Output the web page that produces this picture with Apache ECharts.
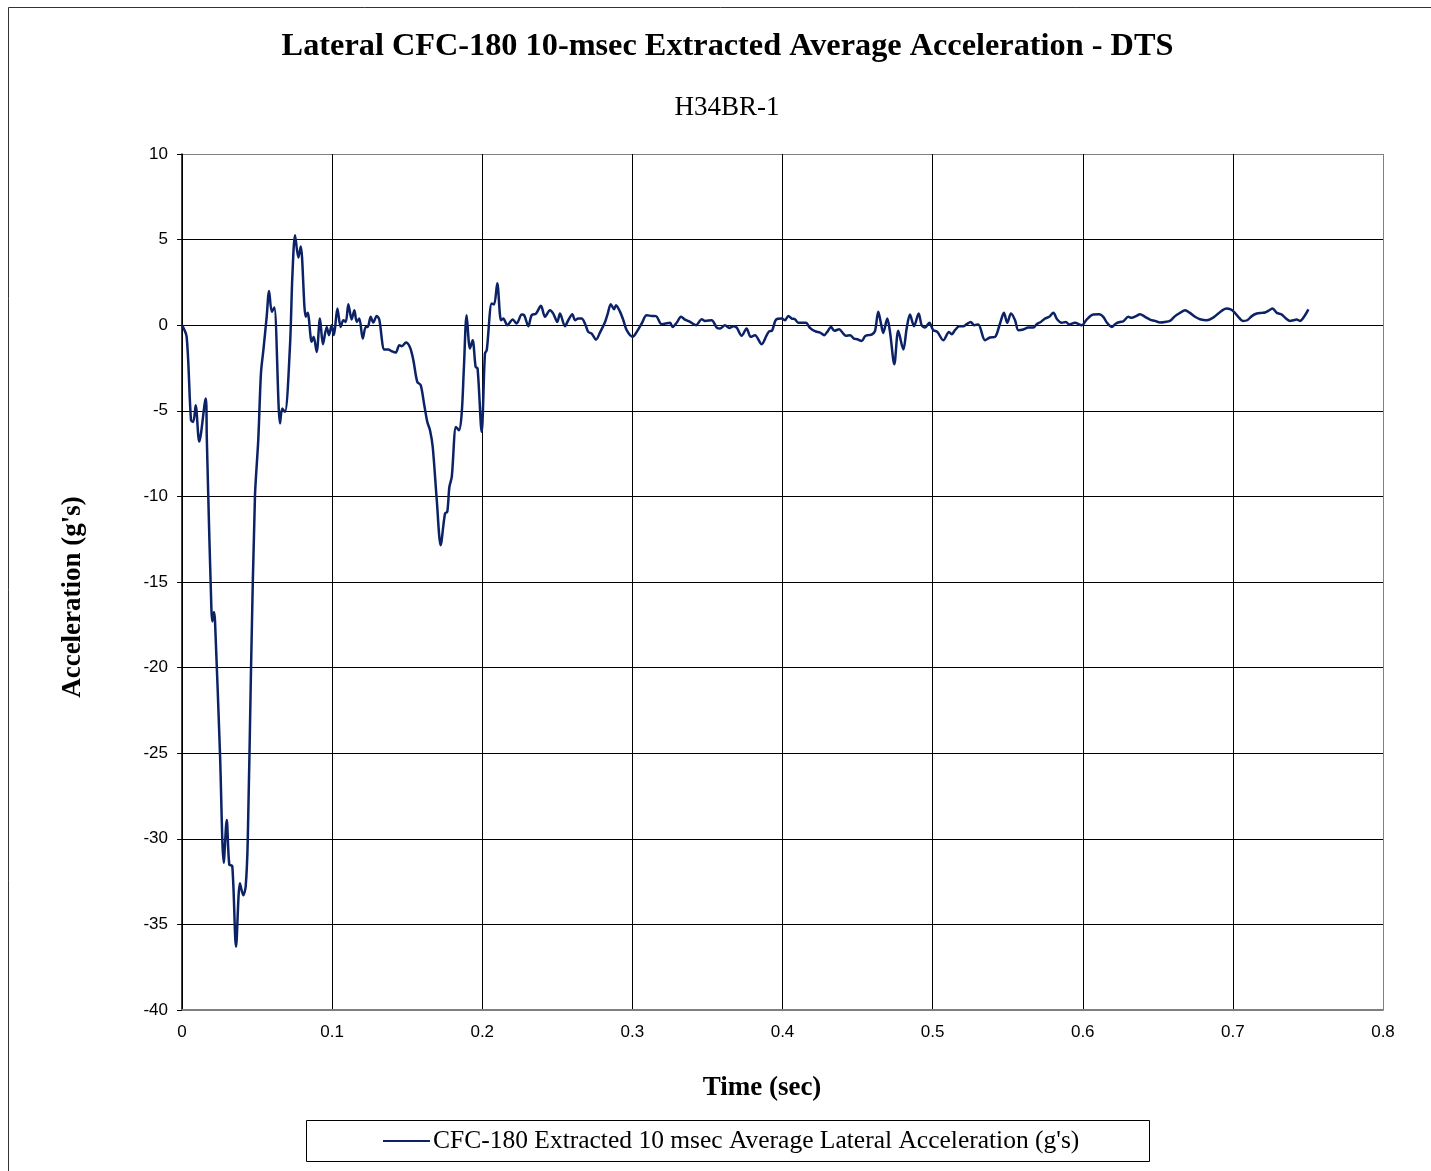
<!DOCTYPE html>
<html>
<head>
<meta charset="utf-8">
<script src="https://cdn.jsdelivr.net/npm/echarts@6/dist/echarts.min.js"></script>
<style>
html,body{margin:0;padding:0;background:#fff;}
#chart{width:1431px;height:1171px;}
</style>
</head>
<body>
<div id="chart"></div>
<script>
const titleText = "Lateral CFC-180 10-msec Extracted Average Acceleration - DTS";
const subtitleText = "H34BR-1";
const xAxisName = "Time (sec)";
const yAxisName = "Acceleration (g's)";
const seriesName = "CFC-180 Extracted 10 msec Average Lateral Acceleration (g's)";

const xTicks = [0, 0.1, 0.2, 0.3, 0.4, 0.5, 0.6, 0.7, 0.8];
const yTicks = [-40, -35, -30, -25, -20, -15, -10, -5, 0, 5, 10];

const time = [
0, 0.0031, 0.0060, 0.0075, 0.0091, 0.0115, 0.0158, 0.0165, 0.0175, 0.0191,
0.0202, 0.0213, 0.0220, 0.0253, 0.0278, 0.0298, 0.0315, 0.0335, 0.0360, 0.0386,
0.0408, 0.0424, 0.0438, 0.0460, 0.0486, 0.0508, 0.0526, 0.0542, 0.0564, 0.0580,
0.0598, 0.0615, 0.0653, 0.0668, 0.0686, 0.0719, 0.0735, 0.0753, 0.0775, 0.0791,
0.0824, 0.0837, 0.0864, 0.0877, 0.0897, 0.0919, 0.0939, 0.0964, 0.0979, 0.0997,
0.1012, 0.1035, 0.1057, 0.1075, 0.1091, 0.1108, 0.1130, 0.1148, 0.1164, 0.1181,
0.1204, 0.1224, 0.1237, 0.1257, 0.1274, 0.1297, 0.1314, 0.1348, 0.1374, 0.1397,
0.1423, 0.1448, 0.1464, 0.1492, 0.1519, 0.1541, 0.1567, 0.1590, 0.1612, 0.1634,
0.1652, 0.1670, 0.1697, 0.1723, 0.1752, 0.1767, 0.1781, 0.1797, 0.1825, 0.1845,
0.1863, 0.1878, 0.1896, 0.1918, 0.1936, 0.1956, 0.1969, 0.1996, 0.2018, 0.2030,
0.2063, 0.2079, 0.2100, 0.2125, 0.2140, 0.2167, 0.2203, 0.2229, 0.2263, 0.2280,
0.2307, 0.2329, 0.2358, 0.2391, 0.2418, 0.2451, 0.2473, 0.2500, 0.2518, 0.2551,
0.2573, 0.2600, 0.2618, 0.2640, 0.2662, 0.2684, 0.2706, 0.2729, 0.2758, 0.2784,
0.2818, 0.2836, 0.2856, 0.2878, 0.2891, 0.2918, 0.2940, 0.2962, 0.3002, 0.3029,
0.3062, 0.3095, 0.3129, 0.3157, 0.3195, 0.3251, 0.3268, 0.3295, 0.3324, 0.3350,
0.3384, 0.3424, 0.3462, 0.3484, 0.3528, 0.3562, 0.3584, 0.3617, 0.3646, 0.3672,
0.3695, 0.3728, 0.3761, 0.3788, 0.3817, 0.3861, 0.3895, 0.3912, 0.3929, 0.3957,
0.3995, 0.4017, 0.4039, 0.4061, 0.4083, 0.4105, 0.4156, 0.4183, 0.4216, 0.4250,
0.4278, 0.4298, 0.4323, 0.4345, 0.4378, 0.4401, 0.4423, 0.4450, 0.4476, 0.4498,
0.4528, 0.4550, 0.4572, 0.4594, 0.4616, 0.4638, 0.4656, 0.4671, 0.4698, 0.4716,
0.4745, 0.4771, 0.4805, 0.4827, 0.4849, 0.4876, 0.4907, 0.4927, 0.4949, 0.4978,
0.5004, 0.5031, 0.5071, 0.5109, 0.5127, 0.5149, 0.5178, 0.5204, 0.5227, 0.5254,
0.5276, 0.5304, 0.5349, 0.5382, 0.5416, 0.5449, 0.5475, 0.5497, 0.5522, 0.5549,
0.5571, 0.5604, 0.5637, 0.5671, 0.5693, 0.5720, 0.5749, 0.5777, 0.5804, 0.5830,
0.5860, 0.5888, 0.5910, 0.5948, 0.5993, 0.6026, 0.6070, 0.6110, 0.6137, 0.6160,
0.6193, 0.6221, 0.6248, 0.6270, 0.6303, 0.6326, 0.6355, 0.6381, 0.6415, 0.6448,
0.6481, 0.6515, 0.6548, 0.6581, 0.6615, 0.6648, 0.6681, 0.6714, 0.6748, 0.6781,
0.6826, 0.6866, 0.6903, 0.6932, 0.6958, 0.6985, 0.7007, 0.7036, 0.7066, 0.7096,
0.7126, 0.7159, 0.7193, 0.7214, 0.7236, 0.7264, 0.7293, 0.7326, 0.7354, 0.7381,
0.7403, 0.7425, 0.7447, 0.7474, 0.7503
];

const accel = [
0, -0.68, -5.55, -5.65, -4.67, -6.8, -4.28, -6.5, -10.0, -15.1,
-17.3, -16.75, -17.3, -25.0, -31.4, -28.9, -31.5, -31.6, -36.3, -32.6,
-33.3, -32.8, -30.1, -19.96, -10.0, -6.7, -2.8, -1.46, 0.49, 2.0,
0.78, 1.03, -5.74, -4.87, -5.06, -1.27, 2.82, 5.26, 3.95, 4.6,
0.49, 0.72, -0.97, -0.68, -1.56, 0.39, -1.11, -0.1, -0.58, 0.0,
-0.58, 0.97, -0.1, 0.29, 0.19, 1.23, 0.33, 0.88, 0.19, 0.39,
-0.78, -0.1, -0.1, 0.49, 0.16, 0.54, 0.33, -1.42, -1.42, -1.52,
-1.6, -1.17, -1.23, -1.01, -1.3, -2.04, -3.31, -3.5, -4.57, -5.65,
-6.13, -7.1, -10.2, -12.85, -11.0, -10.9, -9.45, -8.86, -5.94, -6.13,
-5.16, -2.43, 0.58, -1.36, -0.88, -2.43, -2.53, -6.23, -1.65, -1.46,
1.27, 1.21, 2.45, 0.29, 0.39, 0.0, 0.33, 0.1, 0.62, 0.58,
-0.06, 0.58, 0.68, 1.13, 0.49, 0.88, 0.68, 0.19, 0.68, -0.06,
0.29, 0.64, 0.29, 0.39, 0.39, 0.1, -0.39, -0.49, -0.84, -0.43,
0.19, 0.68, 1.23, 0.93, 1.17, 0.78, 0.29, -0.29, -0.68, -0.39,
0.1, 0.58, 0.54, 0.53, 0.06, 0.14, -0.1, 0.14, 0.49, 0.33,
0.19, 0.0, 0.35, 0.25, 0.29, -0.14, -0.19, 0.0, -0.16, -0.06,
-0.14, -0.62, -0.19, -0.68, -0.58, -1.11, -0.58, -0.35, -0.33, 0.33,
0.39, 0.29, 0.54, 0.39, 0.35, 0.14, 0.14, -0.16, -0.35, -0.43,
-0.58, -0.39, -0.1, -0.33, -0.23, -0.45, -0.62, -0.58, -0.78, -0.82,
-0.92, -0.64, -0.58, -0.55, -0.35, 0.78, 0.1, -0.45, 0.39, -0.39,
-2.28, -0.33, -1.42, -0.19, 0.62, -0.06, 0.68, 0.0, -0.14, 0.14,
-0.29, -0.39, -0.88, -0.39, -0.53, -0.29, -0.06, -0.06, 0.06, 0.19,
0.0, 0.04, -0.88, -0.72, -0.68, 0.1, 0.72, 0.14, 0.68, 0.29,
-0.29, -0.25, -0.14, -0.14, 0.06, 0.19, 0.39, 0.49, 0.72, 0.33,
0.14, 0.19, 0.04, 0.14, 0.0, 0.33, 0.62, 0.64, 0.49, 0.16,
-0.1, 0.1, 0.19, 0.23, 0.49, 0.43, 0.53, 0.64, 0.49, 0.33,
0.25, 0.16, 0.19, 0.25, 0.53, 0.72, 0.88, 0.72, 0.49, 0.35,
0.29, 0.43, 0.68, 0.88, 0.97, 0.92, 0.78, 0.49, 0.25, 0.29,
0.53, 0.68, 0.72, 0.74, 0.84, 0.97, 0.72, 0.62, 0.39, 0.25,
0.29, 0.33, 0.25, 0.49, 0.92
];

const seriesData = time.map((t, i) => [t, accel[i]]);

const chart = echarts.init(document.getElementById('chart'), null, {renderer: 'canvas'});

const ySplitColors = yTicks.map((v, i) => i === yTicks.length - 1 ? '#808080' : '#000000');
const xSplitColors = xTicks.map((v, i) => i === xTicks.length - 1 ? '#808080' : '#000000');

chart.setOption({
  backgroundColor: '#ffffff',
  animation: false,
  graphic: [
    {type: 'rect', z: -1, silent: true,
     shape: {x: 8.5, y: 7.5, width: 1440, height: 1180},
     style: {fill: 'none', stroke: '#333', lineWidth: 1}},
    {type: 'rect', silent: true,
     shape: {x: 306.5, y: 1120.5, width: 843, height: 41},
     style: {fill: 'none', stroke: '#000', lineWidth: 1}},
    {type: 'text', silent: true, x: 727.5, y: 47,
     style: {text: titleText, fontFamily: 'Liberation Serif', fontWeight: 'bold', fontSize: 32.3,
             fill: '#000', textAlign: 'center', textVerticalAlign: 'middle'}},
    {type: 'text', silent: true, x: 727, y: 108,
     style: {text: subtitleText, fontFamily: 'Liberation Serif', fontWeight: 'normal', fontSize: 27,
             fill: '#000', textAlign: 'center', textVerticalAlign: 'middle'}},
    {type: 'text', silent: true, x: 762, y: 1088,
     style: {text: xAxisName, fontFamily: 'Liberation Serif', fontWeight: 'bold', fontSize: 27,
             fill: '#000', textAlign: 'center', textVerticalAlign: 'middle'}},
    {type: 'text', silent: true, x: 73, y: 597, rotation: Math.PI / 2,
     style: {text: yAxisName, fontFamily: 'Liberation Serif', fontWeight: 'bold', fontSize: 27,
             fill: '#000', textAlign: 'center', textVerticalAlign: 'middle'}}
  ],
  legend: {
    left: 383,
    top: 1128,
    padding: 0,
    icon: 'rect',
    itemWidth: 47,
    itemHeight: 2,
    textStyle: {fontFamily: 'Liberation Serif', fontSize: 25.5, color: '#000', padding: [0,0,0,-2]},
    data: [seriesName]
  },
  grid: {left: 182, right: 48, top: 154, bottom: 161, show: false},
  xAxis: {
    type: 'value',
    min: 0, max: 0.8, interval: 0.1,
    axisLine: {show: true, onZero: false, lineStyle: {color: '#808080', width: 2}},
    axisTick: {show: false},
    axisLabel: {fontFamily: 'Liberation Sans', fontSize: 17, color: '#000', margin: 14,
      formatter: v => String(Math.round(v * 10) / 10)},
    splitLine: {show: true, lineStyle: {color: xSplitColors, width: 1}}
  },
  yAxis: {
    type: 'value',
    min: -40, max: 10, interval: 5,
    axisLine: {show: true, onZero: false, lineStyle: {color: '#000', width: 1.5}},
    axisTick: {show: true, inside: false, length: 5, lineStyle: {color: '#000'}},
    axisLabel: {fontFamily: 'Liberation Sans', fontSize: 17, color: '#000', margin: 14},
    splitLine: {show: true, lineStyle: {color: ySplitColors, width: 1}}
  },
  series: [{
    name: seriesName,
    type: 'line',
    data: seriesData,
    showSymbol: false,
    smooth: 0.3,
    lineStyle: {color: '#0b2266', width: 2.5},
    itemStyle: {color: '#0b2266'}
  }]
});
</script>
</body>
</html>
